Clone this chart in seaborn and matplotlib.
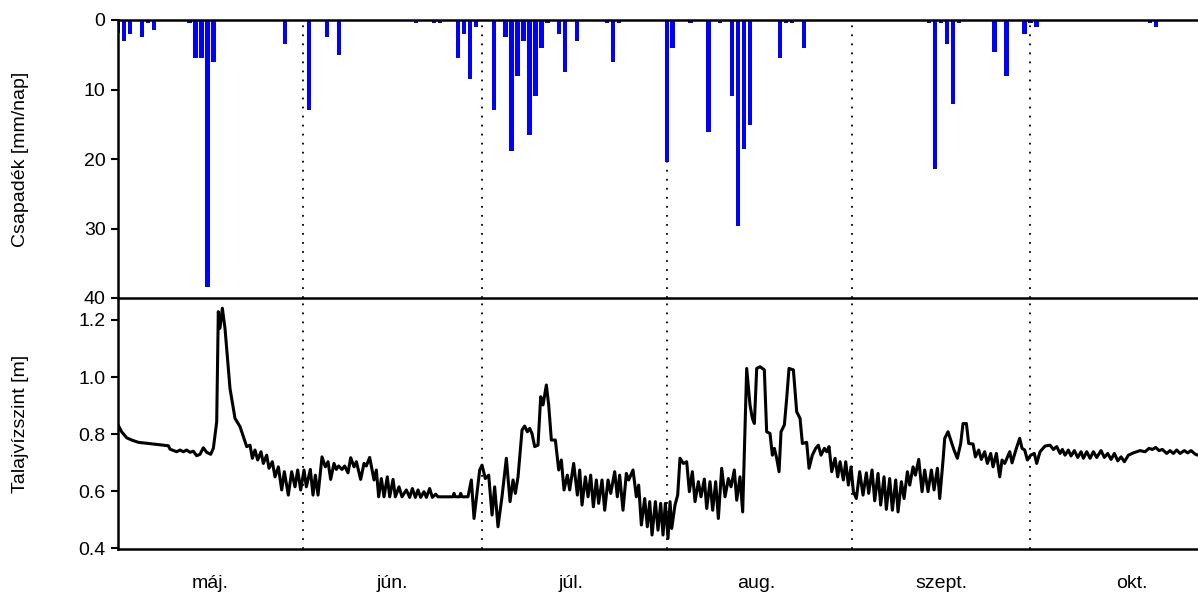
import matplotlib
matplotlib.use("Agg")
import matplotlib.pyplot as plt
import numpy as np
import pandas as pd
import seaborn as sns

# Daily precipitation (days counted from 1 May)
rain_day = [0, 1, 2, 4, 5, 6, 12, 13, 14, 15, 16, 28, 32, 35, 37, 50, 53, 54, 57, 58, 59, 60,
            63, 65, 66, 67, 68, 69, 70, 71, 72, 74, 75, 77, 82, 83, 84, 92, 93, 96, 99, 101,
            103, 104, 105, 106, 111, 112, 113, 115, 136, 137, 138, 139, 140, 141, 147, 149,
            152, 153, 154, 173, 174]
rain_mm = [1.9, 3.0, 2.0, 2.5, 0.5, 1.4, 0.5, 5.5, 5.5, 38.4, 6.0, 3.5, 13.0, 2.5, 5.0, 0.5, 0.5, 0.5, 5.5, 2.0, 8.5, 1.0,
           13.0, 2.5, 18.9, 8.1, 3.0, 16.5, 11.0, 4.0, 0.5, 2.0, 7.5, 3.0, 0.5, 6.0, 0.5, 20.5, 4.0, 0.5, 16.1, 0.5,
           11.0, 29.6, 18.6, 15.1, 5.5, 0.5, 0.5, 4.0, 0.5, 21.5, 0.5, 3.5, 12.1, 0.5, 4.6, 8.1,
           2.0, 0.5, 1.0, 0.5, 1.0]

# Groundwater level (day, metres)
level_day = [
    0.0, 0.61, 1.45, 2.29, 3.41, 8.44, 8.72, 9.84, 10.40, 10.96, 11.51, 12.07, 12.63, 13.19, 13.75, 14.31,
    14.87, 15.54, 15.99, 16.55, 16.82, 17.10, 17.50, 17.94, 18.78, 19.62, 20.46, 21.02, 21.58, 22.14, 22.53,
    22.97, 23.42, 23.98, 24.37, 24.93, 25.32, 25.88, 26.33, 26.89, 27.45, 27.89, 28.56, 29.12, 29.68, 30.13,
    30.63, 31.19, 31.58, 32.25, 32.70, 33.09, 33.54, 34.21, 34.77, 35.22, 35.66, 36.22, 36.61, 37.00, 37.56,
    38.01, 38.57, 39.02, 39.58, 39.97, 40.69, 41.25, 41.64, 42.20, 42.93, 43.32, 43.71, 44.16, 44.61, 45.16,
    45.56, 46.12, 46.51, 47.12, 47.62, 48.35, 48.91, 49.36, 49.86, 50.31, 50.75, 51.31, 51.71, 52.26, 52.71,
    53.27, 53.66, 56.18, 56.34, 56.57, 57.29, 57.46, 57.69, 58.69, 59.25, 59.70, 60.65,
    61.04, 61.60, 62.16, 62.72, 63.16, 63.72, 64.39, 65.12, 65.74, 66.24, 66.63, 67.08, 67.75, 68.19, 68.64,
    69.03, 69.42, 69.87, 70.43, 70.88, 71.27, 71.83, 72.22, 72.67, 73.34, 73.90, 74.34, 74.79, 75.35, 75.74,
    76.41, 77.03, 77.42, 77.81, 78.37, 78.82, 79.26, 79.71, 80.21, 80.60, 81.16, 81.61, 82.17, 82.62, 83.29,
    83.73, 84.12, 84.68, 85.24, 85.64, 86.36, 86.92, 87.31, 87.76, 88.32, 88.76, 89.16, 89.55, 90.11, 90.55,
    91.00, 91.39, 91.78, 92.23,
    92.57, 92.85, 93.40, 93.85, 94.24, 94.80, 95.36, 95.81, 96.31, 96.76, 97.32, 97.76, 98.32, 98.72, 99.27,
    99.72, 100.22, 100.67, 101.23, 101.79, 102.35, 102.80, 103.35, 103.75, 104.30, 104.75, 105.42, 105.98,
    106.37, 106.71, 107.10, 107.66, 108.38, 108.77, 109.33, 109.73, 110.06, 110.45, 110.85, 111.18, 111.74,
    112.13, 112.52, 113.25, 113.81, 114.37, 114.76, 115.48, 115.88, 116.43, 116.99, 117.44, 117.89, 118.45,
    118.84, 119.23, 119.68, 120.24, 120.69, 121.08, 121.63, 122.03, 122.47, 122.92, 123.31,
    123.81, 124.37, 124.93, 125.49, 125.88, 126.44, 126.89, 127.45, 127.89, 128.45, 128.84, 129.40, 129.85,
    130.41, 130.80, 131.36, 131.81, 132.37, 132.76, 133.32, 133.71, 134.27, 134.83, 135.27, 135.83, 136.39,
    136.84, 137.40, 137.79, 138.35, 138.63, 139.18, 139.74, 140.19, 140.75, 141.31, 141.70, 142.26, 142.65,
    143.38, 143.77, 144.33, 144.77, 145.33, 145.78, 146.34, 146.73, 147.29, 147.85, 148.24, 148.69, 149.53,
    149.92, 150.64, 151.20, 151.59, 152.04, 152.49, 153.05,
    153.65, 154.05, 154.61, 155.45, 156.29, 156.85, 157.41, 157.97, 158.36, 158.80, 159.36, 159.81, 160.37,
    160.93, 161.49, 161.88, 162.44, 163.00, 163.56, 164.12, 164.84, 165.40, 165.96, 166.52, 167.08, 167.64,
    168.20, 168.76, 169.43, 170.26, 171.38, 172.22, 172.89, 173.45, 174.01, 174.57, 175.13, 175.85, 176.41,
    176.97, 177.53, 178.09, 178.81, 179.37, 179.93, 180.60, 181.05]
level_m = [
    0.832, 0.808, 0.787, 0.779, 0.771, 0.759, 0.747, 0.738, 0.744, 0.738, 0.744, 0.736, 0.740, 0.724, 0.729, 0.752,
    0.736, 0.729, 0.750, 0.843, 1.229, 1.171, 1.241, 1.171, 0.960, 0.855, 0.826, 0.791, 0.756, 0.761, 0.715,
    0.744, 0.709, 0.738, 0.697, 0.726, 0.680, 0.703, 0.650, 0.685, 0.604, 0.668, 0.586, 0.668, 0.615, 0.674,
    0.604, 0.674, 0.615, 0.676, 0.586, 0.656, 0.586, 0.720, 0.685, 0.703, 0.641, 0.697, 0.676, 0.688, 0.676,
    0.688, 0.664, 0.717, 0.685, 0.703, 0.641, 0.697, 0.688, 0.718, 0.639, 0.674, 0.580, 0.644, 0.580, 0.650,
    0.580, 0.641, 0.580, 0.615, 0.580, 0.604, 0.578, 0.609, 0.578, 0.604, 0.578, 0.598, 0.578, 0.609, 0.578,
    0.589, 0.580, 0.580, 0.592, 0.580, 0.580, 0.592, 0.580, 0.580, 0.639, 0.504, 0.674,
    0.691, 0.644, 0.656, 0.516, 0.615, 0.475, 0.580, 0.715, 0.563, 0.639, 0.592, 0.650, 0.814, 0.828, 0.808,
    0.820, 0.802, 0.756, 0.761, 0.931, 0.902, 0.972, 0.902, 0.779, 0.779, 0.674, 0.709, 0.604, 0.656, 0.604,
    0.697, 0.586, 0.674, 0.551, 0.650, 0.580, 0.656, 0.545, 0.639, 0.557, 0.639, 0.533, 0.639, 0.592, 0.668,
    0.580, 0.656, 0.533, 0.662, 0.639, 0.674, 0.580, 0.621, 0.481, 0.574, 0.475, 0.563, 0.446, 0.563, 0.463,
    0.557, 0.446, 0.557, 0.434,
    0.563, 0.469, 0.551, 0.586, 0.715, 0.697, 0.703, 0.598, 0.668, 0.563, 0.633, 0.580, 0.642, 0.539, 0.633,
    0.533, 0.633, 0.504, 0.680, 0.580, 0.644, 0.615, 0.674, 0.568, 0.650, 0.527, 1.030, 0.902,
    0.855, 0.837, 1.030, 1.036, 1.025, 0.808, 0.802, 0.726, 0.750, 0.715, 0.668, 0.808, 0.832,
    0.925, 1.030, 1.025, 0.878, 0.855, 0.767, 0.771, 0.680, 0.726, 0.750, 0.761, 0.726, 0.750,
    0.738, 0.756, 0.668, 0.715, 0.650, 0.703, 0.639, 0.703, 0.621, 0.685, 0.598,
    0.574, 0.668, 0.586, 0.664, 0.592, 0.674, 0.566, 0.662, 0.551, 0.650, 0.536, 0.644, 0.533,
    0.639, 0.527, 0.633, 0.574, 0.668, 0.621, 0.685, 0.656, 0.711, 0.598, 0.674, 0.598, 0.674,
    0.604, 0.680, 0.574, 0.709, 0.785, 0.808, 0.773, 0.744, 0.715, 0.767, 0.837, 0.837, 0.767,
    0.765, 0.720, 0.744, 0.711, 0.738, 0.697, 0.732, 0.685, 0.732, 0.650, 0.709, 0.697, 0.738,
    0.699, 0.750, 0.785, 0.750, 0.744, 0.709, 0.726,
    0.732, 0.697, 0.738, 0.758, 0.761, 0.746, 0.756, 0.732, 0.746, 0.726, 0.744, 0.723, 0.742,
    0.718, 0.738, 0.715, 0.738, 0.715, 0.738, 0.718, 0.742, 0.718, 0.732, 0.711, 0.732, 0.706,
    0.720, 0.703, 0.726, 0.734, 0.742, 0.738, 0.750, 0.746, 0.753, 0.742, 0.746, 0.732, 0.742,
    0.732, 0.744, 0.732, 0.742, 0.734, 0.742, 0.730, 0.726]

# Month boundaries (first day of each month), label positions and names
month_start = [31, 61, 92, 123, 153]
month_label_day = [15.5, 46, 76, 107, 138, 170]
month_names = ["máj.", "jún.", "júl.", "aug.", "szept.", "okt."]
rain_ticks = [0, 10, 20, 30, 40]
level_ticks = [0.4, 0.6, 0.8, 1.0, 1.2]

sns.set_style("ticks")
plt.rcParams["font.family"] = ["Liberation Sans", "DejaVu Sans"]
plt.rcParams["font.size"] = 14
plt.rcParams.update({
    "text.color": "black",
    "axes.labelcolor": "black",
    "axes.edgecolor": "black",
    "xtick.color": "black",
    "ytick.color": "black",
})

rain_df = pd.DataFrame({"day": rain_day, "mm": rain_mm})
level_df = pd.DataFrame({"day": level_day, "level": level_m})

W, H = 1198, 592
fig = plt.figure(figsize=(W / 100, H / 100), dpi=100)
left = 118 / W
ax_bot = fig.add_axes([left, 1 - 549 / H, 1 - left, (549 - 298) / H])
ax_top = fig.add_axes([left, 1 - 298 / H, 1 - left, (298 - 20) / H])
ax_top.set_zorder(2)
ax_top.patch.set_alpha(0)

x_end = 181.1

# Precipitation bars hanging from the top
sns.barplot(data=rain_df, x="day", y="mm", native_scale=True, orient="x",
            color="#0000ff", saturation=1, width=0.72, linewidth=0,
            errorbar=None, ax=ax_top)
ax_top.set_xlim(0, x_end)
ax_top.set_ylim(40, 0)
ax_top.set_yticks(rain_ticks)
ax_top.set_yticklabels([str(t) for t in rain_ticks])
ax_top.set_xticks([])
ax_top.set_xlabel("")
ax_top.set_ylabel("Csapadék [mm/nap]", fontsize=14)

# Groundwater level line
sns.lineplot(data=level_df, x="day", y="level", color="black", linewidth=2.2,
             estimator=None, sort=False, ax=ax_bot)
ax_bot.set_xlim(0, x_end)
ax_bot.set_ylim(0.397, 1.277)
ax_bot.set_yticks(level_ticks)
ax_bot.set_yticklabels([f"{t:.1f}" for t in level_ticks])
ax_bot.set_xticks(month_label_day)
ax_bot.set_xticklabels(month_names)
ax_bot.tick_params(axis="x", length=0, pad=19)
ax_bot.set_xlabel("")
ax_bot.set_ylabel("Talajvízszint [m]", fontsize=14)

for ax in (ax_top, ax_bot):
    for d in month_start:
        ax.axvline(d, color="black", linewidth=1.3, linestyle=(0, (1, 4)), zorder=0.5)
    ax.tick_params(axis="y", length=5, width=1.5, labelsize=14, pad=4, colors="black")
    ax.spines["right"].set_visible(False)
    for s in ("left", "bottom", "top"):
        ax.spines[s].set_linewidth(1.8)
        ax.spines[s].set_color("black")
    ax.yaxis.set_label_coords(-0.082, 0.5)

ax_bot.spines["top"].set_visible(False)

fig.savefig("out.png", dpi=100, facecolor="white")
